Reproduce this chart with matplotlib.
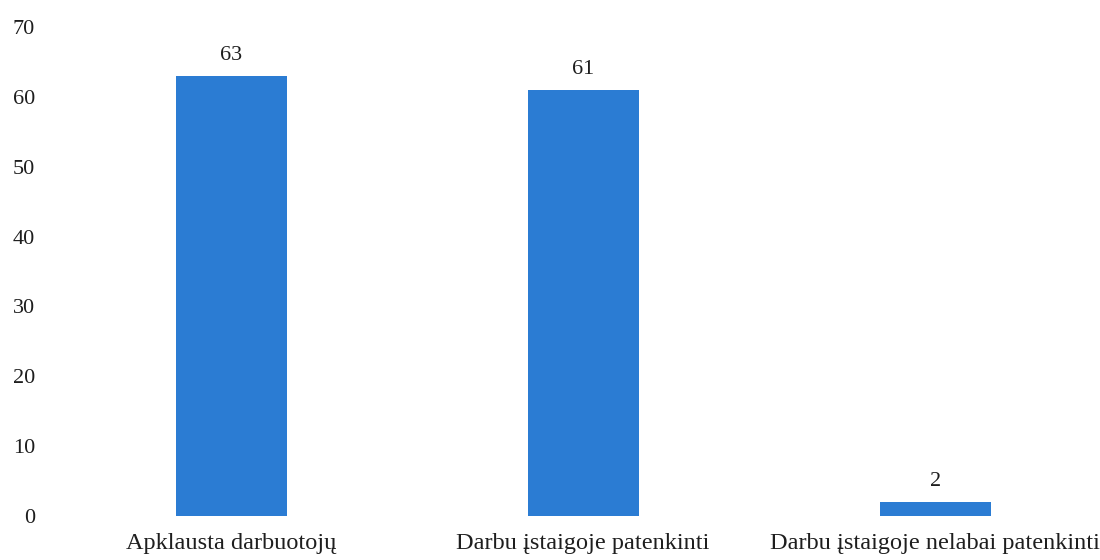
import matplotlib
matplotlib.use("Agg")
import matplotlib.pyplot as plt

categories = ["Apklausta darbuotojų", "Darbu įstaigoje patenkinti", "Darbu įstaigoje nelabai patenkinti"]
values = [63, 61, 2]
y_ticks = [0, 10, 20, 30, 40, 50, 60, 70]

plt.rcParams["font.family"] = ["Liberation Serif", "DejaVu Serif"]

fig = plt.figure(figsize=(11, 5.6), dpi=100)
ax = fig.add_axes([60 / 1100, 44 / 560, 1030 / 1100, 489 / 560])

x = list(range(len(categories)))
ax.bar(x, values, width=0.315, color="#2b7cd3")

for xi, v in zip(x, values):
    ax.annotate(str(v), (xi, v), xytext=(0, 8), textcoords="offset points",
                ha="center", va="bottom", fontsize=16, color="#1e1e1e")

ax.set_xlim(-0.486, 2.44)
ax.set_ylim(0, 70)
ax.set_yticks(y_ticks)
ax.set_yticklabels([str(t) for t in y_ticks], fontsize=16, color="#1e1e1e")
ax.set_xticks(x)
ax.set_xticklabels(categories, fontsize=17.5, color="#1e1e1e")
ax.tick_params(axis="y", length=0, pad=18)
ax.tick_params(axis="x", length=0, pad=12)
for s in ax.spines.values():
    s.set_visible(False)

fig.savefig("out.png", dpi=100, facecolor="white")
